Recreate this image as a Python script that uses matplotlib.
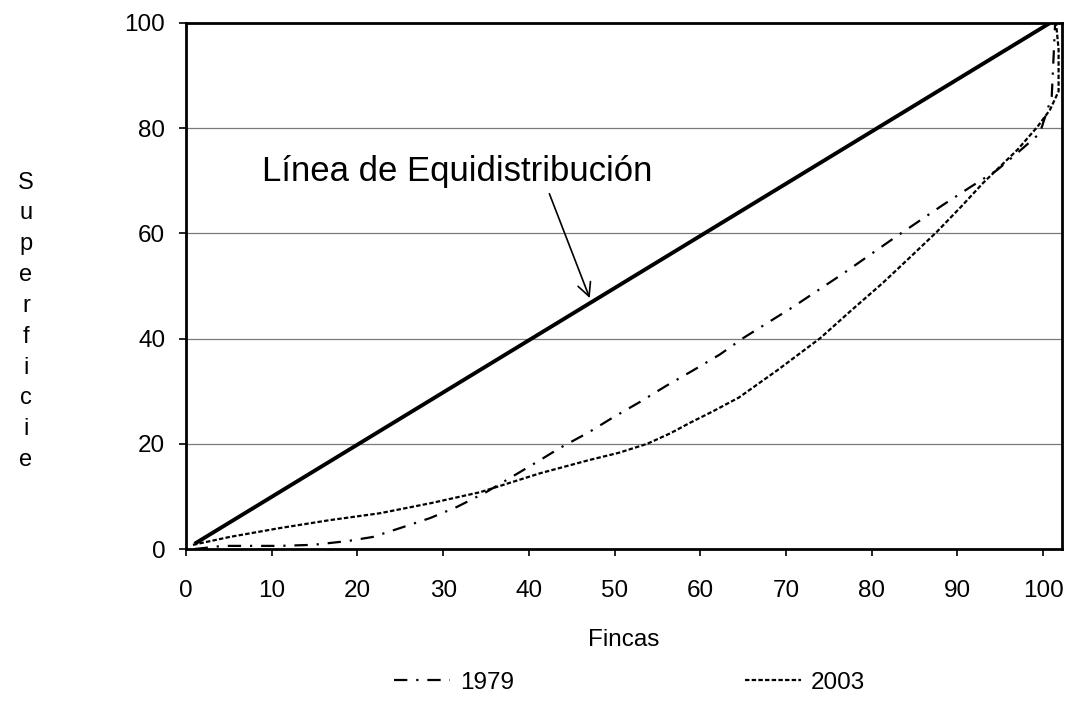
import matplotlib
matplotlib.use("Agg")
from matplotlib import pyplot as plt

plt.rcParams['font.family'] = ['Liberation Sans', 'DejaVu Sans']

# line of equal distribution
equi_x = [1, 100.8]
equi_y = [1, 100]

# Lorenz curve 1979
x_1979 = [1, 4.3, 11, 14.8, 18.8, 21.8, 25, 28.5, 31.6, 35, 41.3, 43.6, 47, 49.8, 53,
          56, 59.2, 62.3, 65, 70.8, 76.7, 82.5, 88.3, 91.5, 94.6, 97, 99.6, 101, 101.4]
y_1979 = [0, 0.6, 0.6, 0.8, 1.5, 2.3, 4, 5.9, 8, 10.8, 16.9, 19.2, 22.2, 25, 28,
          31, 34, 37, 40.1, 46, 52.4, 59, 65.4, 68.8, 72, 75.3, 79, 86, 100]

# Lorenz curve 2003
x_2003 = [0.8, 5.1, 11, 16.8, 22.6, 28.5, 34.3, 41.3, 47, 50.5, 53.8, 56.5, 58.8, 61.5,
          64.5, 69, 74, 77.5, 81.3, 84.5, 87.6, 90.5, 93, 97, 99.3, 100.8, 101.8, 101.8,
          101.5]
y_2003 = [0.8, 2.3, 4, 5.5, 6.8, 8.7, 10.8, 14.4, 16.9, 18.3, 20, 22, 24, 26.2,
          28.8, 34, 40.1, 45.2, 50.6, 55.5, 60.3, 65.2, 69.6, 75.9, 80.2, 83.5, 87, 95,
          100]

x_ticks = list(range(0, 101, 10))
y_ticks = list(range(0, 101, 20))

fig = plt.figure(figsize=(10.76, 7.11), dpi=100)
ax = fig.add_axes([0.1729, 0.2278, 0.8141, 0.7399])

# grid lines
for y in y_ticks[1:-1]:
    ax.axhline(y, color='#7a7a7a', lw=0.9, zorder=1)

ax.plot(equi_x, equi_y, color='black', lw=2.8, solid_capstyle='butt', zorder=3)
l1, = ax.plot(x_1979, y_1979, color='black', lw=1.6, linestyle=(0, (6, 4, 1, 4)),
              label='1979', zorder=3)
l2, = ax.plot(x_2003, y_2003, color='black', lw=1.6, linestyle=(0, (2, 1)),
              label='2003', zorder=3)

ax.annotate('Línea de Equidistribución', xy=(47.1, 47.7), xytext=(8.9, 71.7),
            fontsize=25, va='center', ha='left',
            arrowprops=dict(arrowstyle='->', color='black', lw=1.2,
                            shrinkA=2, shrinkB=0, mutation_scale=24,
                            relpos=(0.73, 0.0)))

ax.set_xlim(0, 102.2)
ax.set_ylim(0, 100)
ax.set_xticks(x_ticks)
ax.set_yticks(y_ticks)
ax.tick_params(axis='both', labelsize=17.5, direction='out', length=5, width=1.2,
               color='black')
ax.tick_params(axis='x', pad=17)
ax.tick_params(axis='y', pad=10)

for side in ['left', 'bottom', 'top', 'right']:
    ax.spines[side].set_linewidth(2)
    ax.spines[side].set_color('black')

ax.set_xlabel('Fincas', fontsize=17.5, labelpad=20)
fig.text(0.024, 0.548, '\n'.join('Superficie'), fontsize=17, ha='center',
         va='center', linespacing=1.52)

fig.legend(handles=[l1, l2], loc='center', bbox_to_anchor=(0.585, 0.04), ncol=2,
           frameon=False, fontsize=17.5, handlelength=2.3, columnspacing=9.5,
           handletextpad=0.4)

fig.savefig("out.png", dpi=100)
